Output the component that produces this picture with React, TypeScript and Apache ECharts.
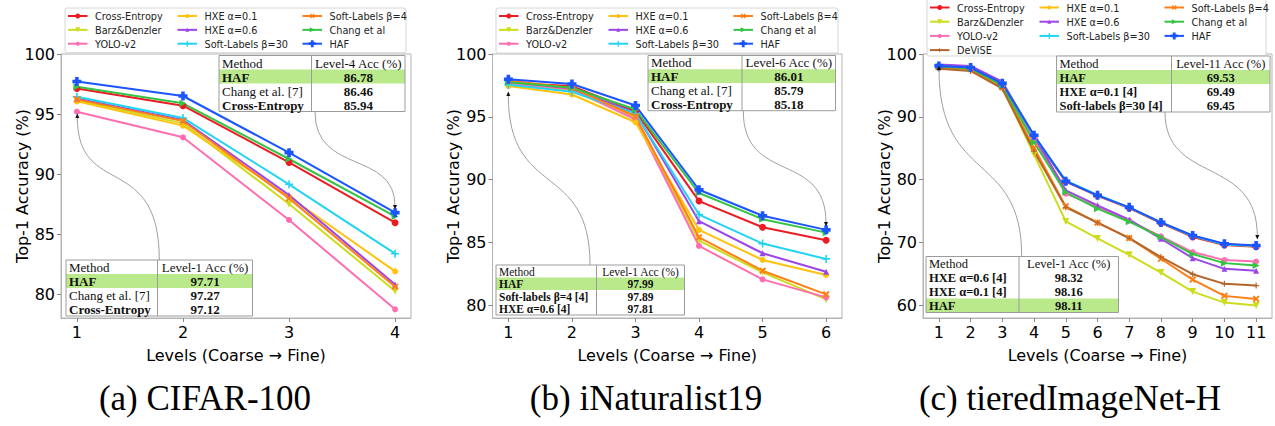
import React, { useEffect, useRef } from 'react';
import * as echarts from 'echarts';

// ---------------- data ----------------
const levelsA = [1, 2, 3, 4];
const levelsB = [1, 2, 3, 4, 5, 6];
const levelsC = [1, 2, 3, 4, 5, 6, 7, 8, 9, 10, 11];

const yTicksA = [80, 85, 90, 95, 100];
const yTicksB = [80, 85, 90, 95, 100];
const yTicksC = [60, 70, 80, 90, 100];

const methodNames = ['Cross-Entropy', 'Barz&Denzler', 'YOLO-v2', 'HXE α=0.1', 'HXE α=0.6', 'Soft-Labels β=30', 'Soft-Labels β=4', 'Chang et al', 'DeViSE', 'HAF'];

// (a) CIFAR-100
const ceA = [97.12, 95.69, 90.97, 85.94];
const barzA = [96.12, 94.22, 87.5, 80.25];
const yoloA = [95.19, 93.06, 86.17, 78.72];
const hxe01A = [96.05, 94.03, 88.1, 81.89];
const hxe06A = [96.3, 94.5, 88.25, 80.8];
const soft30A = [96.44, 94.67, 89.14, 83.36];
const soft4A = [96.22, 94.42, 87.97, 80.61];
const changA = [97.27, 95.89, 91.25, 86.46];
const hafA = [97.71, 96.5, 91.78, 86.78];

// (b) iNaturalist19
const ceB = [97.7, 97.45, 95.45, 88.3, 86.22, 85.18];
const barzB = [97.6, 97.1, 94.92, 85.16, 82.63, 80.48];
const yoloB = [97.65, 97.2, 94.79, 84.73, 82.07, 80.64];
const hxe01B = [97.45, 96.78, 94.57, 86.01, 83.62, 82.42];
const hxe06B = [97.81, 97.25, 95.32, 86.7, 84.15, 82.68];
const soft30B = [97.55, 97.0, 95.27, 87.23, 84.92, 83.7];
const soft4B = [97.89, 97.3, 95.05, 85.42, 82.76, 80.88];
const changB = [97.75, 97.32, 95.59, 88.94, 86.86, 85.79];
const hafB = [97.99, 97.61, 95.9, 89.2, 87.13, 86.01];

// (c) tieredImageNet-H
const ceC = [98.0, 97.7, 95.2, 86.8, 79.7, 77.45, 75.5, 73.1, 70.9, 69.6, 69.35];
const barzC = [97.85, 97.5, 94.7, 84.0, 73.37, 70.66, 68.06, 65.23, 62.2, 60.45, 59.97];
const yoloC = [98.0, 97.75, 95.2, 86.5, 77.78, 75.7, 73.5, 71.0, 68.49, 67.21, 66.99];
const hxe01C = [98.16, 97.9, 95.4, 87.0, 79.8, 77.5, 75.6, 73.25, 71.1, 69.75, 69.49];
const hxe06C = [98.32, 98.1, 95.6, 86.9, 78.31, 75.92, 73.64, 70.61, 67.52, 65.82, 65.5];
const soft30C = [98.05, 97.8, 95.3, 87.0, 79.85, 77.6, 75.55, 73.2, 71.05, 69.7, 69.45];
const soft4C = [97.9, 97.6, 94.7, 85.07, 75.76, 73.16, 70.72, 67.42, 64.11, 61.52, 61.04];
const changC = [98.0, 97.7, 95.0, 85.97, 77.99, 75.39, 73.32, 70.88, 68.17, 66.73, 66.35];
const deviseC = [97.67, 97.3, 94.48, 84.53, 75.6, 73.16, 70.72, 67.69, 64.97, 63.43, 63.16];
const hafC = [98.11, 97.85, 95.33, 87.08, 79.75, 77.51, 75.6, 73.21, 71.13, 69.8, 69.53];

const panelTitles = ['(a) CIFAR-100', '(b) iNaturalist19', '(c) tieredImageNet-H'];
const xAxisTitle = 'Levels (Coarse → Fine)';
const yAxisTitle = 'Top-1 Accuracy (%)';

// tables
const tableTopHeadA = ['Method', 'Level-4 Acc (%)'];
const tableTopRowsA = [['HAF', '86.78'], ['Chang et al. [7]', '86.46'], ['Cross-Entropy', '85.94']];
const tableBotHeadA = ['Method', 'Level-1 Acc (%)'];
const tableBotRowsA = [['HAF', '97.71'], ['Chang et al. [7]', '97.27'], ['Cross-Entropy', '97.12']];
const tableTopHeadB = ['Method', 'Level-6 Acc (%)'];
const tableTopRowsB = [['HAF', '86.01'], ['Chang et al. [7]', '85.79'], ['Cross-Entropy', '85.18']];
const tableBotHeadB = ['Method', 'Level-1 Acc (%)'];
const tableBotRowsB = [['HAF', '97.99'], ['Soft-labels β=4 [4]', '97.89'], ['HXE α=0.6 [4]', '97.81']];
const tableTopHeadC = ['Method', 'Level-11 Acc (%)'];
const tableTopRowsC = [['HAF', '69.53'], ['HXE α=0.1 [4]', '69.49'], ['Soft-labels β=30 [4]', '69.45']];
const tableBotHeadC = ['Method', 'Level-1 Acc (%)'];
const tableBotRowsC = [['HXE α=0.6 [4]', '98.32'], ['HXE α=0.1 [4]', '98.16'], ['HAF', '98.11']];

// ---------------- styling ----------------
const SANS = 'DejaVu Sans';
const SERIF = 'Liberation Serif';

const STYLE: Record<string, { color: string; marker: string; size: number }> = {
  'Cross-Entropy': { color: '#ec1c24', marker: 'circle', size: 7 },
  'Barz&Denzler': { color: '#cddc1c', marker: 'triDown', size: 7 },
  'YOLO-v2': { color: '#ff6eb0', marker: 'circle', size: 6 },
  'HXE α=0.1': { color: '#ffc20e', marker: 'circle', size: 6 },
  'HXE α=0.6': { color: '#9a46e8', marker: 'triUp', size: 6 },
  'Soft-Labels β=30': { color: '#22d4f2', marker: 'plus', size: 8 },
  'Soft-Labels β=4': { color: '#ff7f17', marker: 'x', size: 7 },
  'Chang et al': { color: '#33c444', marker: 'triRight', size: 7 },
  'DeViSE': { color: '#b3652b', marker: 'plus', size: 6 },
  'HAF': { color: '#1a55ff', marker: 'P', size: 9 },
};

const SHAPES: Record<string, number[][]> = {
  triDown: [[0, 0], [10, 0], [5, 10]],
  triUp: [[5, 0], [10, 10], [0, 10]],
  triRight: [[0, 0], [10, 5], [0, 10]],
  plus: [[4, 0], [6, 0], [6, 4], [10, 4], [10, 6], [6, 6], [6, 10], [4, 10], [4, 6], [0, 6], [0, 4], [4, 4]],
  P: [[3, 0], [7, 0], [7, 3], [10, 3], [10, 7], [7, 7], [7, 10], [3, 10], [3, 7], [0, 7], [0, 3], [3, 3]],
  x: [[0, 2], [2, 0], [5, 3], [8, 0], [10, 2], [7, 5], [10, 8], [8, 10], [5, 7], [2, 10], [0, 8], [3, 5]],
};

function symbolOf(marker: string) {
  if (marker === 'circle') return 'circle';
  const pts = SHAPES[marker];
  return 'path://' + pts.map((p, i) => (i ? 'L' : 'M') + p[0] + ',' + p[1]).join('') + 'Z';
}

function legendMarker(marker: string, cx: number, cy: number, s: number, color: string) {
  if (marker === 'circle') return { type: 'circle', z: 60, shape: { cx, cy, r: s / 2 }, style: { fill: color } };
  const pts = SHAPES[marker].map((p) => [cx - s / 2 + (p[0] * s) / 10, cy - s / 2 + (p[1] * s) / 10]);
  return { type: 'polygon', z: 60, shape: { points: pts }, style: { fill: color } };
}

const panels = [
  {
    levels: levelsA, ticks: yTicksA, yMin: 78, yMax: 100,
    values: { 'Cross-Entropy': ceA, 'Barz&Denzler': barzA, 'YOLO-v2': yoloA, 'HXE α=0.1': hxe01A, 'HXE α=0.6': hxe06A, 'Soft-Labels β=30': soft30A, 'Soft-Labels β=4': soft4A, 'Chang et al': changA, 'HAF': hafA } as Record<string, number[]>,
  },
  {
    levels: levelsB, ticks: yTicksB, yMin: 79, yMax: 100,
    values: { 'Cross-Entropy': ceB, 'Barz&Denzler': barzB, 'YOLO-v2': yoloB, 'HXE α=0.1': hxe01B, 'HXE α=0.6': hxe06B, 'Soft-Labels β=30': soft30B, 'Soft-Labels β=4': soft4B, 'Chang et al': changB, 'HAF': hafB } as Record<string, number[]>,
  },
  {
    levels: levelsC, ticks: yTicksC, yMin: 58, yMax: 100,
    values: { 'Cross-Entropy': ceC, 'Barz&Denzler': barzC, 'YOLO-v2': yoloC, 'HXE α=0.1': hxe01C, 'HXE α=0.6': hxe06C, 'Soft-Labels β=30': soft30C, 'Soft-Labels β=4': soft4C, 'Chang et al': changC, 'DeViSE': deviseC, 'HAF': hafC } as Record<string, number[]>,
  },
];

const gridRects = [
  { left: 61, top: 54, width: 350, height: 264 },
  { left: 492.5, top: 54, width: 349.5, height: 264 },
  { left: 923, top: 54, width: 349, height: 264 },
];

const legendLayouts = [
  { x: 65, y: 8, w: 341, h: 44.7, row0: 16, dy: 13.85, cols: [['Cross-Entropy', 'Barz&Denzler', 'YOLO-v2'], ['HXE α=0.1', 'HXE α=0.6', 'Soft-Labels β=30'], ['Soft-Labels β=4', 'Chang et al', 'HAF']] },
  { x: 496, y: 8, w: 342, h: 45, row0: 16, dy: 13.85, cols: [['Cross-Entropy', 'Barz&Denzler', 'YOLO-v2'], ['HXE α=0.1', 'HXE α=0.6', 'Soft-Labels β=30'], ['Soft-Labels β=4', 'Chang et al', 'HAF']] },
  { x: 927, y: -1, w: 339, h: 57, row0: 7.5, dy: 14.2, cols: [['Cross-Entropy', 'Barz&Denzler', 'YOLO-v2', 'DeViSE'], ['HXE α=0.1', 'HXE α=0.6', 'Soft-Labels β=30'], ['Soft-Labels β=4', 'Chang et al', 'HAF']] },
];
const legendColOffsets = [3, 112.5, 237.5];

const tables = [
  { x: 219, y: 55.5, w1: 92.5, w2: 93.5, rh: 14, fs: 13, head: tableTopHeadA, rows: tableTopRowsA, hi: 0 },
  { x: 66, y: 260, w1: 91.5, w2: 95, rh: 14, fs: 13, head: tableBotHeadA, rows: tableBotRowsA, hi: 0 },
  { x: 648, y: 55.5, w1: 94, w2: 93.5, rh: 13.8, fs: 13, head: tableTopHeadB, rows: tableTopRowsB, hi: 0 },
  { x: 496, y: 265, w1: 100.5, w2: 88, rh: 12.5, fs: 11.5, head: tableBotHeadB, rows: tableBotRowsB, hi: 0 },
  { x: 1056.5, y: 56, w1: 115, w2: 98.5, rh: 14, fs: 12.5, head: tableTopHeadC, rows: tableTopRowsC, hi: 0 },
  { x: 926, y: 256.5, w1: 93, w2: 99.5, rh: 14, fs: 12.5, head: tableBotHeadC, rows: tableBotRowsC, hi: 2 },
];

const arrows = [
  { p0: [159.3, 260], c1: [159.3, 150], c2: [77.3, 200], p1: [77.3, 117], up: true },
  { p0: [315, 112], c1: [315, 175], c2: [395, 150], p1: [395, 206], up: false },
  { p0: [590, 265], c1: [590, 160], c2: [508.3, 200], p1: [508.3, 95], up: true },
  { p0: [743.3, 111], c1: [743.3, 185], c2: [826, 150], p1: [826, 223], up: false },
  { p0: [1021.7, 256.5], c1: [1021.7, 150], c2: [939, 185], p1: [939, 69], up: true },
  { p0: [1165, 112], c1: [1165, 185], c2: [1257.3, 155], p1: [1257.3, 236], up: false },
];

const titlePos = [[205, 398], [646, 398], [1070, 398]];

function buildOption() {
  const grid = gridRects.map((g) => ({ ...g, show: true, borderColor: '#b4b4b4', borderWidth: 1, backgroundColor: 'transparent' }));
  const xAxis = panels.map((p, i) => {
    const n = p.levels.length;
    const pad = 0.05 * (p.levels[n - 1] - p.levels[0]);
    return {
      type: 'value', gridIndex: i, min: p.levels[0] - pad, max: p.levels[n - 1] + pad,
      name: xAxisTitle, nameLocation: 'middle', nameGap: 29, nameMoveOverlap: false,
      nameTextStyle: { fontSize: 16, fontFamily: SANS, color: '#000' },
      axisLine: { show: true, onZero: false, lineStyle: { color: '#b4b4b4' } },
      axisTick: { show: true, inside: false, length: 4, customValues: p.levels, lineStyle: { color: '#888' } },
      axisLabel: { customValues: p.levels, fontSize: 16, fontFamily: SANS, color: '#000', margin: 6 },
      splitLine: { show: false },
    };
  });
  const yAxis = panels.map((p, i) => ({
    type: 'value', gridIndex: i, min: p.yMin, max: p.yMax,
    name: yAxisTitle, nameLocation: 'middle', nameGap: 31, nameRotate: 90, nameMoveOverlap: false,
    nameTextStyle: { fontSize: 16, fontFamily: SANS, color: '#000' },
    axisLine: { show: true, onZero: false, lineStyle: { color: '#b4b4b4' } },
    axisTick: { show: true, inside: false, length: 4, customValues: p.ticks, lineStyle: { color: '#888' } },
    axisLabel: { customValues: p.ticks, fontSize: 16, fontFamily: SANS, color: '#000', margin: 6 },
    splitLine: { show: false },
  }));

  const series: any[] = [];
  panels.forEach((p, i) => {
    methodNames.forEach((name) => {
      const vals = p.values[name];
      if (!vals) return;
      const st = STYLE[name];
      series.push({
        type: 'line', name, xAxisIndex: i, yAxisIndex: i,
        data: p.levels.map((l, k) => [l, vals[k]]),
        symbol: symbolOf(st.marker), symbolSize: st.size, showSymbol: true,
        lineStyle: { color: st.color, width: 2 },
        itemStyle: { color: st.color },
        silent: true, emphasis: { disabled: true },
      });
    });
  });

  const graphic: any[] = [];
  // legends
  legendLayouts.forEach((lg) => {
    graphic.push({ type: 'rect', z: 55, shape: { x: lg.x, y: lg.y, width: lg.w, height: lg.h, r: 2 }, style: { fill: '#fff', stroke: '#d6d6d6', lineWidth: 1 } });
    lg.cols.forEach((col, ci) => {
      col.forEach((name, ri) => {
        const st = STYLE[name];
        const cy = lg.row0 + ri * lg.dy;
        const x0 = lg.x + legendColOffsets[ci];
        graphic.push({ type: 'line', z: 58, shape: { x1: x0, y1: cy, x2: x0 + 19.5, y2: cy }, style: { stroke: st.color, lineWidth: 2 } });
        graphic.push(legendMarker(st.marker, x0 + 9.75, cy, Math.max(4, st.size - 2), st.color));
        graphic.push({ type: 'text', z: 60, x: x0 + 27, y: cy + 0.5, style: { text: name, fontSize: 9.7, fontFamily: SANS, fill: '#222', textAlign: 'left', textVerticalAlign: 'middle' } });
      });
    });
  });
  // arrows
  arrows.forEach((a) => {
    graphic.push({ type: 'bezierCurve', z: 50, shape: { x1: a.p0[0], y1: a.p0[1], cpx1: a.c1[0], cpy1: a.c1[1], cpx2: a.c2[0], cpy2: a.c2[1], x2: a.p1[0], y2: a.p1[1] }, style: { stroke: '#a0a0a0', lineWidth: 1, fill: null } });
    const x = a.p1[0], y = a.p1[1];
    const pts = a.up ? [[x, y - 3.5], [x - 2, y + 1], [x + 2, y + 1]] : [[x, y + 3.5], [x - 2, y - 1], [x + 2, y - 1]];
    graphic.push({ type: 'polygon', z: 51, shape: { points: pts }, style: { fill: '#111' } });
  });
  // tables
  tables.forEach((t) => {
    const total = t.rh * (t.rows.length + 1);
    const w = t.w1 + t.w2;
    graphic.push({ type: 'rect', z: 70, shape: { x: t.x, y: t.y, width: w, height: total }, style: { fill: '#fff' } });
    graphic.push({ type: 'rect', z: 71, shape: { x: t.x, y: t.y + t.rh * (t.hi + 1), width: w, height: t.rh }, style: { fill: '#b9e98b' } });
    graphic.push({ type: 'rect', z: 72, shape: { x: t.x, y: t.y, width: w, height: total }, style: { fill: 'none', stroke: '#9c9c9c', lineWidth: 1 } });
    graphic.push({ type: 'line', z: 72, shape: { x1: t.x + t.w1, y1: t.y, x2: t.x + t.w1, y2: t.y + total }, style: { stroke: '#9c9c9c', lineWidth: 1 } });
    const cells = [t.head, ...t.rows];
    cells.forEach((row, ri) => {
      const cy = t.y + t.rh * (ri + 0.5) + 0.5;
      const bold = ri > 0 && row[0] !== 'Chang et al. [7]';
      graphic.push({ type: 'text', z: 73, x: t.x + 3, y: cy, style: { text: row[0], fontSize: t.fs, fontFamily: SERIF, fontWeight: bold ? 'bold' : 'normal', fill: '#111', textAlign: 'left', textVerticalAlign: 'middle' } });
      graphic.push({ type: 'text', z: 73, x: t.x + t.w1 + t.w2 / 2, y: cy, style: { text: row[1], fontSize: t.fs, fontFamily: SERIF, fontWeight: ri > 0 ? 'bold' : 'normal', fill: '#111', textAlign: 'center', textVerticalAlign: 'middle' } });
    });
  });
  // sub-captions
  panelTitles.forEach((title, i) => {
    graphic.push({ type: 'text', z: 60, x: titlePos[i][0], y: titlePos[i][1], style: { text: title, fontSize: 35, fontFamily: SERIF, fill: '#000', textAlign: 'center', textVerticalAlign: 'middle' } });
  });

  return { animation: false, backgroundColor: '#fff', grid, xAxis, yAxis, series, graphic };
}

export default function App() {
  const ref = useRef<HTMLDivElement>(null);
  useEffect(() => {
    const chart = echarts.init(ref.current!, null, { renderer: 'svg', width: 1275, height: 426 });
    chart.setOption(buildOption() as any);
    return () => chart.dispose();
  }, []);
  return <div ref={ref} style={{ position: 'absolute', left: 0, top: 0, width: 1275, height: 426, background: '#fff' }} />;
}
